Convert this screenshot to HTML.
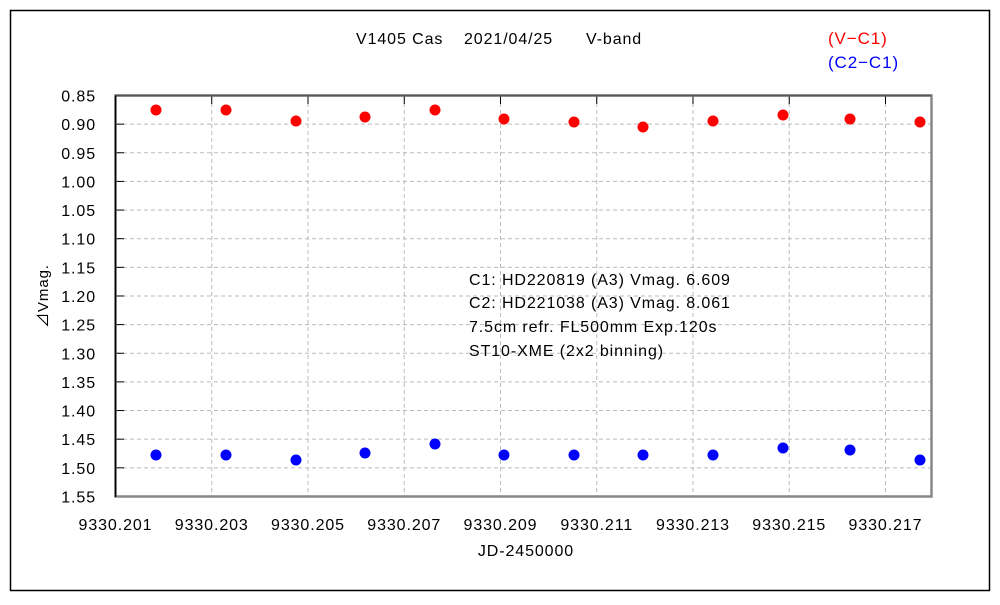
<!DOCTYPE html>
<html><head><meta charset="utf-8"><style>
html,body{margin:0;padding:0;background:#fff;}
svg text{font-family:"Liberation Sans","Noto Sans CJK JP",sans-serif;letter-spacing:0.9px;}
</style></head><body>
<svg width="1000" height="600" xmlns="http://www.w3.org/2000/svg">
<rect x="0" y="0" width="1000" height="600" fill="#fff"/>
<rect x="10.5" y="10.5" width="979" height="580" fill="none" stroke="#000" stroke-width="1.5"/>
<g id="grid" stroke="#bbb" stroke-dasharray="4,3" stroke-width="1">
</g>
<g id="lab" font-size="16" fill="#000"></g>
<rect x="115.5" y="95.5" width="816" height="401" fill="none" stroke="#888" stroke-width="2.5"/>
<line x1="115.5" y1="95.5" x2="931" y2="95.5" stroke="#555" stroke-width="2"/>
<line x1="115.5" y1="95.5" x2="115.5" y2="497" stroke="#000" stroke-width="1.5"/>
<g id="dots"></g>
<text x="356" y="44" font-size="16">V1405 Cas</text>
<text x="464" y="44" font-size="16">2021/04/25</text>
<text x="586" y="44" font-size="16">V-band</text>
<text x="828" y="44" font-size="17" fill="#f00">(V−C1)</text>
<text x="828" y="68" font-size="17" fill="#00f">(C2−C1)</text>
<g font-size="16">
<text x="469" y="285">C1: HD220819 (A3) Vmag. 6.609</text>
<text x="469" y="308">C2: HD221038 (A3) Vmag. 8.061</text>
<text x="469" y="332">7.5cm refr. FL500mm  Exp.120s</text>
<text x="469" y="356">ST10-XME (2x2 binning)</text>
</g>
<text x="526" y="556" font-size="16" text-anchor="middle">JD-2450000</text>
<text transform="translate(48,296) rotate(-90)" font-size="15" text-anchor="middle">⊿Vmag.</text>
</svg>
<script>
var ns="http://www.w3.org/2000/svg";
function el(p,t,a,txt){var e=document.createElementNS(ns,t);for(var k in a)e.setAttribute(k,a[k]);if(txt)e.textContent=txt;document.getElementById(p).appendChild(e);}
for(var i=0;i<=14;i++){var y=95.5+i*28.64;
 if(i>0&&i<14)el("grid","line",{x1:116,y1:y,x2:931,y2:y});
 el("grid","line",{x1:116,y1:y,x2:124,y2:y,stroke:"#000","stroke-dasharray":"none"});
 el("lab","text",{x:96,y:y+6,"text-anchor":"end"},(0.85+i*0.05).toFixed(2));}
for(var j=0;j<9;j++){var x=115.5+j*96.25;
 if(j>0){el("grid","line",{x1:x,y1:96,x2:x,y2:496});el("grid","line",{x1:x,y1:96,x2:x,y2:104,stroke:"#000","stroke-dasharray":"none"});}
 el("lab","text",{x:x,y:530,"text-anchor":"middle"},"9330."+(201+2*j));}
var xs=[156,226,296,365,435,504,574,643,713,783,850,920];
var r=[110,110,121,117,110,119,122,127,121,115,119,122];
var b=[455,455,460,453,444,455,455,455,455,448,450,460];
for(var k=0;k<12;k++){el("dots","circle",{cx:xs[k],cy:r[k],r:5.5,fill:"#f00"});el("dots","circle",{cx:xs[k],cy:b[k],r:5.5,fill:"#00f"});}
</script>
</body></html>
